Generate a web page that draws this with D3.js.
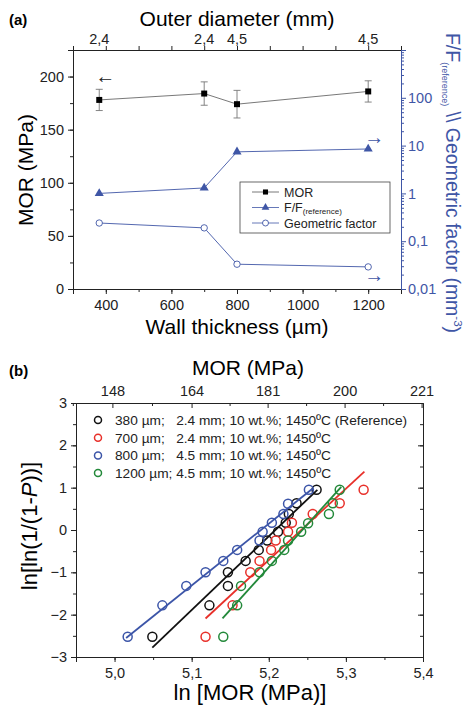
<!DOCTYPE html>
<html>
<head>
<meta charset="utf-8">
<script src="https://cdn.jsdelivr.net/npm/d3@7"></script>
<style>
  body { margin: 0; background: #fff; }
  svg { font-family: "Liberation Sans", Arial, sans-serif; }
  .axis path, .axis line { stroke: #222; }
  .axis text { font-size: 14.5px; fill: #222; }
  .blue-axis path, .blue-axis line { stroke: #3f56a6; }
  .blue-axis text { fill: #3f56a6; }
</style>
</head>
<body>
<div id="chart"></div>
<script>
// ---- panel (a) data ----
var wallThickness = [380, 700, 800, 1200];
var outerDiameter = ["2,4", "2,4", "4,5", "4,5"];
var morMean = [178, 184, 174, 186];
var morErr = [10, 11, 13, 10];
var forceRatio = [1.0, 1.3, 7.4, 8.5];
var geomFactor = [0.24, 0.19, 0.033, 0.029];

// ---- panel (b) data: ln(MOR) vs ln[ln(1/(1-P))] ----
var seriesNames = [
  "380 \u00b5m;   2.4 mm; 10 wt.%; 1450\u00baC (Reference)",
  "700 \u00b5m;   2.4 mm; 10 wt.%; 1450\u00baC",
  "800 \u00b5m;   4.5 mm; 10 wt.%; 1450\u00baC",
  "1200 \u00b5m; 4.5 mm; 10 wt.%; 1450\u00baC"
];
var seriesColors = ["#111111", "#e8302a", "#3c55a8", "#23893a"];
var lnMor380 = [5.049, 5.123, 5.147, 5.147, 5.170, 5.187, 5.198, 5.212, 5.222, 5.226, 5.236, 5.262];
var weib380 = [-2.52, -1.78, -1.32, -1.0, -0.73, -0.47, -0.25, -0.04, 0.17, 0.38, 0.63, 0.95];
var lnMor700 = [5.118, 5.153, 5.176, 5.188, 5.203, 5.209, 5.225, 5.230, 5.257, 5.292, 5.323];
var weib700 = [-2.52, -1.78, -1.0, -0.73, -0.47, -0.25, -0.04, 0.17, 0.38, 0.63, 0.95];
var lnMor800 = [5.017, 5.062, 5.093, 5.118, 5.141, 5.159, 5.188, 5.192, 5.204, 5.219, 5.225, 5.252];
var weib800 = [-2.52, -1.78, -1.32, -1.0, -0.73, -0.47, -0.25, -0.04, 0.17, 0.38, 0.62, 0.95];
var lnMor1200 = [5.141, 5.159, 5.164, 5.188, 5.204, 5.220, 5.225, 5.242, 5.251, 5.278, 5.283, 5.292];
var weib1200 = [-2.52, -1.78, -1.32, -1.0, -0.73, -0.47, -0.25, -0.04, 0.16, 0.38, 0.63, 0.95];
// fitted Weibull lines: [x0, y0, x1, y1] in data units
var fitLines = [
  [5.049, -2.78, 5.263, 0.95],
  [5.118, -2.09, 5.324, 1.38],
  [5.015, -2.55, 5.257, 0.98],
  [5.140, -2.09, 5.294, 1.02]
];
var morTopTicks = [148, 164, 181, 200, 221];

var BLUE = "#3f56a6";
var comma = function(f) { return function(d) { return d3.format(f)(d).replace(".", ","); }; };

var svg = d3.select("#chart").append("svg")
  .attr("width", 464).attr("height", 707);

// ================= panel (a) =================
var a = {left: 73, right: 401, top: 50, bottom: 289};

var xA = d3.scaleLinear().domain([300, 1300]).range([a.left, a.right]);
var yA = d3.scaleLinear().domain([0, 225]).range([a.bottom, a.top]);
var yLog = d3.scaleLog().domain([0.01, 1000]).range([a.bottom, a.top]);

// minor ticks first
svg.append("g").attr("class", "axis")
  .attr("transform", "translate(0," + a.bottom + ")")
  .call(d3.axisBottom(xA).tickValues(d3.range(300, 1301, 100)).tickSize(3).tickFormat(""));
svg.append("g").attr("class", "axis")
  .attr("transform", "translate(0," + a.bottom + ")")
  .call(d3.axisBottom(xA).tickValues([400, 600, 800, 1000, 1200]).tickSize(5).tickPadding(6)
    .tickFormat(d3.format("d")));

svg.append("g").attr("class", "axis")
  .attr("transform", "translate(0," + a.top + ")")
  .call(d3.axisTop(xA).tickValues(d3.range(300, 1301, 100)).tickSize(4).tickFormat(""));
svg.append("g").selectAll("text")
  .data(wallThickness)
  .enter().append("text")
  .attr("x", function(d) { return xA(d); })
  .attr("y", a.top - 6)
  .attr("text-anchor", "middle")
  .style("font-size", "14.5px").style("fill", "#222")
  .text(function(d, i) { return outerDiameter[i]; });

svg.append("g").attr("class", "axis")
  .attr("transform", "translate(" + a.left + ",0)")
  .call(d3.axisLeft(yA).tickValues(d3.range(0, 226, 25)).tickSize(3).tickFormat(""));
svg.append("g").attr("class", "axis")
  .attr("transform", "translate(" + a.left + ",0)")
  .call(d3.axisLeft(yA).tickValues([0, 50, 100, 150, 200]).tickSize(5).tickPadding(4));

// right log axis
var logMinor = [];
[0.01, 0.1, 1, 10, 100].forEach(function(dec) {
  for (var k = 2; k <= 9; k++) logMinor.push(dec * k);
});
svg.append("g").attr("class", "axis blue-axis")
  .attr("transform", "translate(" + a.right + ",0)")
  .call(d3.axisRight(yLog).tickValues(logMinor).tickSize(3).tickFormat(""));
svg.append("g").attr("class", "axis blue-axis")
  .attr("transform", "translate(" + a.right + ",0)")
  .call(d3.axisRight(yLog).tickValues([0.01, 0.1, 1, 10, 100]).tickSize(5).tickPadding(2)
    .tickFormat(function(d) { return String(d).replace(".", ","); }));

// MOR line + error bars
var morPts = wallThickness.map(function(w, i) { return {x: w, y: morMean[i], e: morErr[i]}; });
svg.append("path").datum(morPts)
  .attr("fill", "none").attr("stroke", "#555").attr("stroke-width", 0.8)
  .attr("d", d3.line().x(function(d) { return xA(d.x); }).y(function(d) { return yA(d.y); }));
var eb = svg.append("g").attr("stroke", "#777").attr("stroke-width", 0.9);
morPts.forEach(function(d) {
  var cx = xA(d.x);
  eb.append("line").attr("x1", cx).attr("x2", cx).attr("y1", yA(d.y - d.e)).attr("y2", yA(d.y + d.e));
  eb.append("line").attr("x1", cx - 3.5).attr("x2", cx + 3.5).attr("y1", yA(d.y - d.e)).attr("y2", yA(d.y - d.e));
  eb.append("line").attr("x1", cx - 3.5).attr("x2", cx + 3.5).attr("y1", yA(d.y + d.e)).attr("y2", yA(d.y + d.e));
});
svg.append("g").selectAll("path")
  .data(morPts).enter().append("path")
  .attr("transform", function(d) { return "translate(" + xA(d.x) + "," + yA(d.y) + ")"; })
  .attr("d", d3.symbol(d3.symbolSquare, 36))
  .attr("fill", "#000");

// F/F line
var ffPts = wallThickness.map(function(w, i) { return {x: w, y: forceRatio[i]}; });
svg.append("path").datum(ffPts)
  .attr("fill", "none").attr("stroke", BLUE).attr("stroke-width", 0.9)
  .attr("d", d3.line().x(function(d) { return xA(d.x); }).y(function(d) { return yLog(d.y); }));
svg.append("g").selectAll("path")
  .data(ffPts).enter().append("path")
  .attr("transform", function(d) { return "translate(" + xA(d.x) + "," + yLog(d.y) + ")"; })
  .attr("d", d3.symbol(d3.symbolTriangle, 36))
  .attr("fill", BLUE);

// geometric factor line
var gfPts = wallThickness.map(function(w, i) { return {x: w, y: geomFactor[i]}; });
svg.append("path").datum(gfPts)
  .attr("fill", "none").attr("stroke", BLUE).attr("stroke-width", 0.9)
  .attr("d", d3.line().x(function(d) { return xA(d.x); }).y(function(d) { return yLog(d.y); }));
svg.append("g").selectAll("circle")
  .data(gfPts).enter().append("circle")
  .attr("cx", function(d) { return xA(d.x); })
  .attr("cy", function(d) { return yLog(d.y); })
  .attr("r", 3.2)
  .attr("fill", "#fff").attr("stroke", BLUE).attr("stroke-width", 0.9);

// arrows pointing at the axes
svg.append("text").attr("x", xA(380) - 4).attr("y", yA(200) + 6).text("\u2190")
  .style("font-size", "20px").style("fill", "#222");
svg.append("text").attr("x", xA(1200) - 4).attr("y", yLog(forceRatio[3]) - 5).text("\u2192")
  .style("font-size", "20px").style("fill", BLUE);
svg.append("text").attr("x", xA(1200) - 4).attr("y", yLog(geomFactor[3]) + 15).text("\u2192")
  .style("font-size", "20px").style("fill", BLUE);

// legend (a)
var legA = svg.append("g").attr("transform", "translate(240,182)");
legA.append("rect").attr("width", 150).attr("height", 51)
  .attr("fill", "#fff").attr("stroke", "#444").attr("stroke-width", 0.8);
var legItems = [
  {label: "MOR", color: "#555", mark: "square"},
  {label: "F/F", color: BLUE, mark: "triangle"},
  {label: "Geometric factor", color: BLUE, mark: "circle"}
];
legItems.forEach(function(it, i) {
  var gy = 10 + i * 15.5;
  legA.append("line").attr("x1", 12).attr("x2", 39).attr("y1", gy).attr("y2", gy)
    .attr("stroke", it.color).attr("stroke-width", 0.8);
  if (it.mark === "circle") {
    legA.append("circle").attr("cx", 25.5).attr("cy", gy).attr("r", 3)
      .attr("fill", "#fff").attr("stroke", BLUE).attr("stroke-width", 0.9);
  } else {
    legA.append("path").attr("transform", "translate(25.5," + gy + ")")
      .attr("d", d3.symbol(it.mark === "square" ? d3.symbolSquare : d3.symbolTriangle, 26))
      .attr("fill", it.mark === "square" ? "#000" : BLUE);
  }
  var t = legA.append("text").attr("x", 44).attr("y", gy + 4.5)
    .style("font-size", "12.5px").style("fill", "#222").text(it.label);
  if (i === 1) t.append("tspan").attr("dy", 2).style("font-size", "8px").text("(reference)");
});

// titles (a)
svg.append("text").attr("x", 9).attr("y", 25).text("(a)")
  .style("font-size", "15px").style("font-weight", "bold");
svg.append("text").attr("x", 237).attr("y", 26).attr("text-anchor", "middle")
  .style("font-size", "21px").text("Outer diameter (mm)");
svg.append("text").attr("x", 237).attr("y", 334).attr("text-anchor", "middle")
  .style("font-size", "21px").text("Wall thickness (\u00b5m)");
svg.append("text").attr("transform", "translate(33,170) rotate(-90)").attr("text-anchor", "middle")
  .style("font-size", "21px").text("MOR (MPa)");
var rt = svg.append("text").attr("transform", "translate(446,183) rotate(90)")
  .attr("text-anchor", "middle").style("font-size", "19.5px").style("fill", BLUE);
rt.append("tspan").text("F/F");
rt.append("tspan").attr("dy", 4).style("font-size", "9px").text("(reference)");
rt.append("tspan").attr("dy", -4).text(" \\\\ Geometric factor (mm");
rt.append("tspan").attr("dy", -8).style("font-size", "11.5px").text("-3");
rt.append("tspan").attr("dy", 8).text(")");

// ================= panel (b) =================
var b = {left: 76, right: 423, top: 403, bottom: 657};
var xB = d3.scaleLinear().domain([4.95, 5.4]).range([b.left, b.right]);
var yB = d3.scaleLinear().domain([-3, 3]).range([b.bottom, b.top]);

svg.append("g").attr("class", "axis")
  .attr("transform", "translate(0," + b.bottom + ")")
  .call(d3.axisBottom(xB).tickValues(d3.range(4.95, 5.401, 0.05)).tickSize(3).tickFormat(""));
svg.append("g").attr("class", "axis")
  .attr("transform", "translate(0," + b.bottom + ")")
  .call(d3.axisBottom(xB).tickValues([5.0, 5.1, 5.2, 5.3, 5.4]).tickSize(5).tickPadding(6)
    .tickFormat(comma(".1f")));

// top MOR axis (ticks at ln of MOR)
var topMinor = [];
for (var i = 0; i < morTopTicks.length - 1; i++) topMinor.push((Math.log(morTopTicks[i]) + Math.log(morTopTicks[i + 1])) / 2);
topMinor.unshift(Math.log(morTopTicks[0]) - (Math.log(morTopTicks[1]) - Math.log(morTopTicks[0])) / 2);
svg.append("g").attr("class", "axis")
  .attr("transform", "translate(0," + b.top + ")")
  .call(d3.axisTop(xB).tickValues(topMinor).tickSizeInner(-3).tickSizeOuter(0).tickFormat(""));
svg.append("g").attr("class", "axis")
  .attr("transform", "translate(0," + b.top + ")")
  .call(d3.axisTop(xB).tickValues(morTopTicks.map(function(m) { return Math.log(m); }))
    .tickSizeInner(-5).tickSizeOuter(0).tickPadding(7)
    .tickFormat(function(d, i) { return morTopTicks[i]; }));

svg.append("g").attr("class", "axis")
  .attr("transform", "translate(" + b.left + ",0)")
  .call(d3.axisLeft(yB).tickValues(d3.range(-3, 3.01, 0.5)).tickSize(3).tickFormat(""));
svg.append("g").attr("class", "axis")
  .attr("transform", "translate(" + b.left + ",0)")
  .call(d3.axisLeft(yB).tickValues(d3.range(-3, 3.01, 1)).tickSize(5).tickPadding(4)
    .tickFormat(d3.format("d")));
svg.append("g").attr("class", "axis")
  .attr("transform", "translate(" + b.right + ",0)")
  .call(d3.axisRight(yB).tickValues(d3.range(-3, 3.01, 0.5)).tickSizeInner(-3).tickSizeOuter(0).tickFormat(""));
svg.append("g").attr("class", "axis")
  .attr("transform", "translate(" + b.right + ",0)")
  .call(d3.axisRight(yB).tickValues(d3.range(-3, 3.01, 1)).tickSizeInner(-5).tickSizeOuter(0).tickFormat(""));

var seriesX = [lnMor380, lnMor700, lnMor800, lnMor1200];
var seriesY = [weib380, weib700, weib800, weib1200];

seriesX.forEach(function(xs, s) {
  var f = fitLines[s];
  svg.append("line")
    .attr("x1", xB(f[0])).attr("y1", yB(f[1]))
    .attr("x2", xB(f[2])).attr("y2", yB(f[3]))
    .attr("stroke", seriesColors[s]).attr("stroke-width", 1.8);
  svg.append("g").selectAll("circle")
    .data(xs.map(function(x, i) { return [x, seriesY[s][i]]; }))
    .enter().append("circle")
    .attr("cx", function(d) { return xB(d[0]); })
    .attr("cy", function(d) { return yB(d[1]); })
    .attr("r", 4.5)
    .attr("fill", "none").attr("stroke", seriesColors[s]).attr("stroke-width", 1.5);
});

// legend (b)
var legB = svg.append("g");
seriesNames.forEach(function(name, s) {
  var gy = 420 + s * 17.7;
  legB.append("circle").attr("cx", 98).attr("cy", gy).attr("r", 3.5)
    .attr("fill", "none").attr("stroke", seriesColors[s]).attr("stroke-width", 1.5);
  legB.append("text").attr("x", 115).attr("y", gy + 5)
    .style("font-size", "13.7px").style("fill", "#222").style("white-space", "pre").text(name);
});

// titles (b)
svg.append("text").attr("x", 9).attr("y", 376).text("(b)")
  .style("font-size", "15px").style("font-weight", "bold");
svg.append("text").attr("x", 248).attr("y", 375).attr("text-anchor", "middle")
  .style("font-size", "21px").text("MOR (MPa)");
svg.append("text").attr("x", 250).attr("y", 700).attr("text-anchor", "middle")
  .style("font-size", "22px").text("ln [MOR (MPa)]");
var yl = svg.append("text").attr("transform", "translate(37,526) rotate(-90)")
  .attr("text-anchor", "middle").style("font-size", "22px");
yl.append("tspan").text("ln[ln(1/(1-");
yl.append("tspan").style("font-style", "italic").text("P");
yl.append("tspan").text("))]");
</script>
</body>
</html>
